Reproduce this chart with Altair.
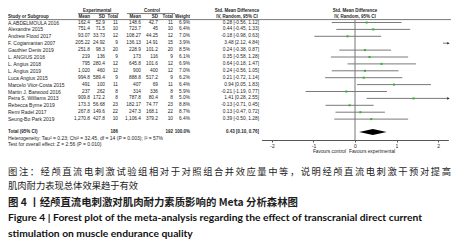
import altair as alt
import pandas as pd

# ---------------- data ----------------
studies = ["A.ABDELMOULA 2016", "Alexandre  2015", "Andrew Flood 2017", "F. Cogiamanian 2007",
           "Gauthier Denis 2019", "L. ANGIUS 2016", "L. Angius 2018", "L. Angius 2019",
           "Luca Angius 2015", "Marcelo Vitor-Costa 2015", "Martin J. Barwood 2016",
           "Petra S. Williams 2013", "Rebecca Byrne 2019", "Remi Radel 2017", "Seung-Bo Park 2019"]
exp_mean = ["162.4", "751.4", "93.07", "205.22", "251.8", "219", "795", "1,020", "994.8", "491",
            "237", "909.8", "173.3", "267.8", "1,270.8"]
exp_sd = ["52.9", "71.5", "33.73", "24.92", "98.3", "136", "280.4", "460", "589.4", "100",
          "262", "172.2", "56.68", "149.6", "427.8"]
exp_n = [11, 10, 12, 9, 20, 9, 12, 12, 9, 11, 8, 8, 23, 22, 10]
ctrl_mean = ["148.6", "723.7", "108.27", "136.13", "228.9", "173", "645.8", "900", "888.8", "407",
             "314", "787.8", "182.17", "247.3", "1,106.4"]
ctrl_sd = ["42.7", "45", "44.25", "14.91", "101.2", "116", "101.6", "400", "517.2", "69",
           "336", "80.4", "74.77", "168.1", "379.2"]
ctrl_n = [11, 10, 12, 15, 20, 9, 12, 12, 9, 11, 8, 8, 23, 22, 10]
weights = ["6.9%", "6.4%", "7.0%", "3.9%", "8.5%", "6.1%", "6.9%", "7.0%", "6.2%", "6.4%",
           "5.9%", "5.0%", "8.8%", "8.7%", "6.4%"]
smd = [0.28, 0.44, -0.18, 3.48, 0.24, 0.35, 0.64, 0.24, 0.21, 0.94, -0.21, 1.41, -0.13, 0.13, 0.39]
ci_lo = [-0.56, -0.45, -0.98, 2.12, -0.38, -0.58, -0.18, -0.56, -0.72, 0.05, -1.19, 0.28, -0.71, -0.47, -0.50]
ci_hi = [1.12, 1.33, 0.63, 4.84, 0.87, 1.28, 1.47, 1.05, 1.14, 1.83, 0.77, 2.55, 0.45, 0.72, 1.28]

total_label = "Total (95% CI)"
exp_total, ctrl_total, total_weight = "186", "192", "100.0%"
pooled, pooled_lo, pooled_hi = 0.43, 0.10, 0.76
heterogeneity = "Heterogeneity: Tau\u00b2 = 0.23; Chi\u00b2 = 32.45, df = 14 (P = 0.003); I\u00b2 = 57%"
overall_test = "Test for overall effect: Z = 2.56 (P = 0.010)"
tick_values = [-2, -1, 0, 1, 2]
smd_domain = [-2.25, 2.25]
fav_left, fav_right = "Favours control", "Favours experimental"

caption1 = "图注：经颅直流电刺激试验组相对于对照组合并效应量中等，说明经颅直流电刺激干预对提高"
caption2 = "肌肉耐力表现总体效果趋于有效"
caption3 = "图 4 丨经颅直流电刺激对肌肉耐力素质影响的 Meta 分析森林图"
caption4 = "Figure 4  |  Forest plot of the meta-analysis regarding the effect of transcranial direct current"
caption5 = "stimulation on muscle endurance quality"

# ---------------- layout ----------------
W, H = 443, 240
FONT, CJK, LAT = "Liberation Sans", "Noto Sans CJK SC", "Lato"
TXT = "#1e1e1e"
FS_NAME, FS_VAL, FS_HEAD, FS_TOT = 5.0, 4.8, 4.5, 4.5
ROW0, STEP = 14.5, 6.9
Y_H1, Y_H2, Y_HLINE, Y_UL = 2.7, 8.6, 11.6, 5.6
Y_TOTAL, Y_HET, Y_TEST = 124.0, 130.0, 136.0
Y_AXIS, Y_FAV = 132.0, 144.0
Y_CAP = [164.0, 178.0, 194.5, 210.0, 225.5]
COL = dict(name=0, em=82, esd=97, en=110, cm=133, csd=150, cn=165, w=182, ci=251)
SMD_RANGE = [253.6, 440.4]

px = alt.Scale(domain=[0, W], nice=False, zero=False)
py = alt.Scale(domain=[0, H], reverse=True, nice=False, zero=False)


def texts(rows, align, size=FS_VAL, bold=False, font=FONT, color=TXT):
    return alt.Chart(pd.DataFrame(rows)).mark_text(
        align=align, baseline="middle", fontSize=size, font=font,
        fontWeight="bold" if bold else "normal", color=color
    ).encode(x=alt.X("x:Q", scale=px, axis=None),
             y=alt.Y("y:Q", scale=py, axis=None),
             text="t:N")


ys = [ROW0 + i * STEP for i in range(len(studies))]

names, right_reg = [], []
for i, y in enumerate(ys):
    names.append(dict(x=COL["name"], y=y, t=studies[i]))
    ci_txt = f"{smd[i]:.2f} [{ci_lo[i]:.2f}, {ci_hi[i]:.2f}]"
    for key, val in (("em", exp_mean[i]), ("esd", exp_sd[i]), ("en", str(exp_n[i])),
                     ("cm", ctrl_mean[i]), ("csd", ctrl_sd[i]), ("cn", str(ctrl_n[i])),
                     ("w", weights[i]), ("ci", ci_txt)):
        right_reg.append(dict(x=COL[key], y=y, t=val))
names.append(dict(x=COL["name"], y=Y_HET, t=heterogeneity))
names.append(dict(x=COL["name"], y=Y_TEST, t=overall_test))

left_bold = [dict(x=COL["name"], y=Y_H2, t="Study or Subgroup")]
total_left = [dict(x=COL["name"], y=Y_TOTAL, t=total_label)]
head_right = [dict(x=COL[k], y=Y_H2, t=t) for k, t in
              (("em", "Mean"), ("esd", "SD"), ("en", "Total"), ("cm", "Mean"),
               ("csd", "SD"), ("cn", "Total"), ("w", "Weight"))]
total_right = [dict(x=COL["en"], y=Y_TOTAL, t=exp_total),
               dict(x=COL["cn"], y=Y_TOTAL, t=ctrl_total),
               dict(x=COL["w"], y=Y_TOTAL, t=total_weight),
               dict(x=COL["ci"], y=Y_TOTAL, t=f"{pooled:.2f} [{pooled_lo:.2f}, {pooled_hi:.2f}]")]
center_bold = [dict(x=89, y=Y_H1, t="Experimental"),
               dict(x=144, y=Y_H1, t="Control"),
               dict(x=229, y=Y_H1, t="Std. Mean Difference"),
               dict(x=229, y=Y_H2, t="IV, Random, 95% CI"),
               dict(x=347, y=Y_H1, t="Std. Mean Difference"),
               dict(x=347, y=Y_H2, t="IV, Random, 95% CI")]

fav = [texts([dict(x=338, y=Y_FAV, t=fav_left)], "right", size=4.8),
       texts([dict(x=341, y=Y_FAV, t=fav_right)], "left", size=4.8)]

hlines = alt.Chart(pd.DataFrame([
    dict(x=0, x2=W, y=Y_HLINE), dict(x=70, x2=111, y=Y_UL), dict(x=119, x2=167, y=Y_UL)
])).mark_rule(color="#555", strokeWidth=0.8).encode(
    x=alt.X("x:Q", scale=px, axis=None), x2="x2:Q", y=alt.Y("y:Q", scale=py, axis=None))

# ---------------- forest ----------------
smd_scale = alt.Scale(domain=smd_domain, range=SMD_RANGE, nice=False, zero=False)
smd_axis = alt.Axis(values=tick_values, labelExpr="toString(datum.value)", orient="bottom",
                    offset=Y_AXIS - H, grid=False, domainColor="#555", tickColor="#555",
                    tickSize=2, labelFontSize=5.0, labelFont=FONT, labelColor=TXT,
                    labelPadding=1, title=None, domainWidth=1, tickWidth=1)

fdf = pd.DataFrame({"y": ys, "smd": smd, "lo": ci_lo, "hi": ci_hi})
fdf["lo_c"] = fdf["lo"].clip(*smd_domain)
fdf["hi_c"] = fdf["hi"].clip(*smd_domain)


def sx(field):
    return alt.X(field, type="quantitative", scale=smd_scale, axis=smd_axis)


yy = alt.Y("y:Q", scale=py, axis=None)

ci_rules = alt.Chart(fdf).mark_rule(color="#7a7a7a", strokeWidth=1).encode(x=sx("lo_c"), x2="hi_c:Q", y=yy)
squares = alt.Chart(fdf[(fdf.smd >= smd_domain[0]) & (fdf.smd <= smd_domain[1])]).mark_square(
    color="#22bb22", size=4, opacity=1).encode(x=sx("smd"), y=yy)
arrows = alt.Chart(fdf[fdf.hi > smd_domain[1]]).mark_point(
    shape="triangle-right", filled=True, color="#222", size=7, opacity=1).encode(x=sx("hi_c"), y=yy)
zero_line = alt.Chart(pd.DataFrame([dict(x=0, y=Y_HLINE, y2=Y_AXIS)])).mark_rule(
    color="#777", strokeWidth=1).encode(x=sx("x"), y=yy, y2="y2:Q")
diamond = alt.Chart(pd.DataFrame({
    "x": [pooled_lo, pooled, pooled_hi],
    "y": [Y_TOTAL, Y_TOTAL - 3, Y_TOTAL],
    "y2": [Y_TOTAL, Y_TOTAL + 3, Y_TOTAL],
})).mark_area(color="black", orient="vertical").encode(x=sx("x"), y=yy, y2="y2:Q")

forest = alt.layer(zero_line, ci_rules, squares, arrows, diamond)

# ---------------- caption ----------------
cap1_df = pd.DataFrame({"i": list(range(len(caption1))), "t": list(caption1), "y": Y_CAP[0]})
cap1 = alt.Chart(cap1_df).mark_text(align="center", baseline="middle", fontSize=9.3, font=CJK,
                                    color=TXT).encode(
    x=alt.X("i:O", scale=alt.Scale(type="point", domain=list(range(len(caption1))),
                                   range=[4.7, 438.3], padding=0), axis=None),
    y=yy, text="t:N")
cap2 = texts([dict(x=0, y=Y_CAP[1], t=caption2)], "left", size=9.3, font=CJK)
cap3 = texts([dict(x=0, y=Y_CAP[2], t=caption3)], "left", size=10.4, bold=True, font=CJK)
cap45 = texts([dict(x=0, y=Y_CAP[3], t=caption4), dict(x=0, y=Y_CAP[4], t=caption5)],
              "left", size=10.3, bold=True, font=LAT, color="#111")

layers = [hlines,
          texts(names, "left", size=FS_NAME), texts(right_reg, "right", size=FS_VAL),
          texts(left_bold, "left", size=FS_HEAD, bold=True),
          texts(head_right, "right", size=FS_HEAD, bold=True),
          texts(center_bold, "center", size=FS_HEAD, bold=True),
          texts(total_left, "left", size=FS_TOT, bold=True),
          texts(total_right, "right", size=FS_TOT, bold=True),
          *fav, forest, cap1, cap2, cap3, cap45]

chart = alt.layer(*layers).resolve_scale(x="independent").properties(
    width=W, height=H, autosize=alt.AutoSizeParams(type="none"), padding=0,
    background="white"
).configure_view(stroke=None)

chart.save("out.html", embed_options={"renderer": "svg", "actions": False})
